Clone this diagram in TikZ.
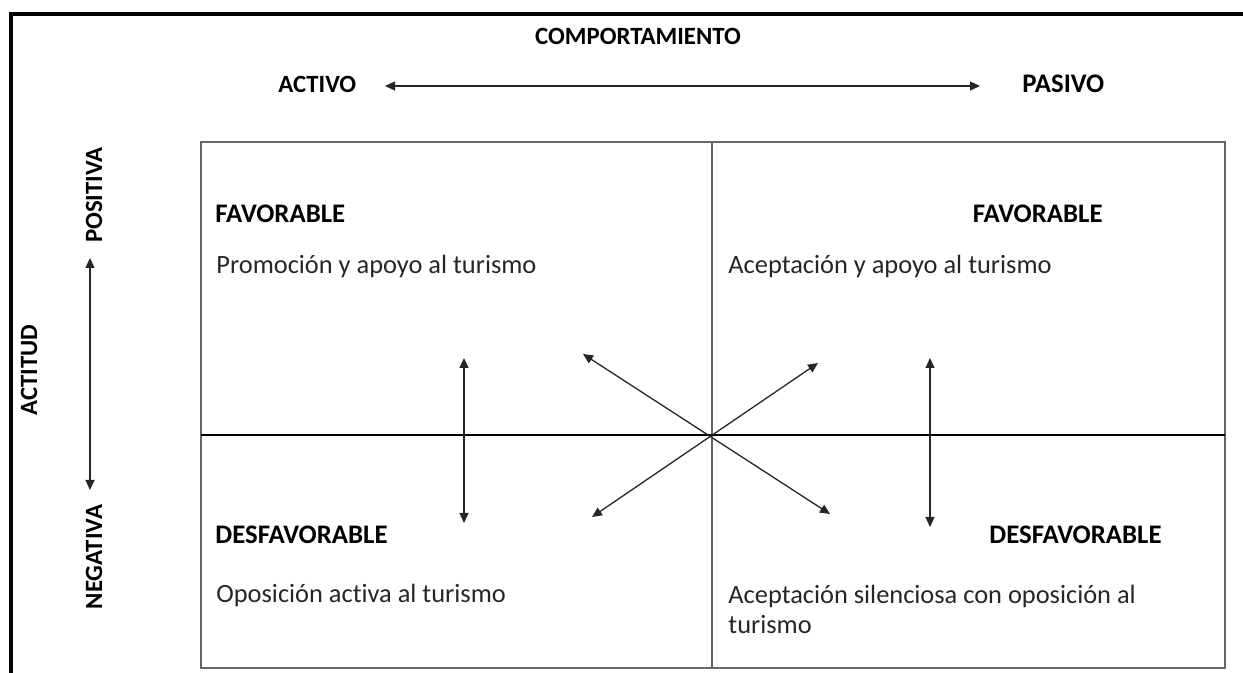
\documentclass[tikz,border=0pt]{standalone}
\usepackage{fontspec}
\setmainfont{Carlito}[Ligatures=NoCommon]
\usetikzlibrary{arrows.meta}

\begin{document}
\begin{tikzpicture}[x=0.5pt, y=-0.5pt,
  titulo/.style={font=\bfseries\fontsize{13.4}{15}\selectfont, inner sep=0pt},
  eje/.style={font=\bfseries\fontsize{12.4}{15}\selectfont, inner sep=0pt},
  texto/.style={font=\fontsize{13.2}{15}\selectfont, inner sep=0pt, text=black!85, align=left},
  flecha/.style={{Triangle[length=5pt,width=4.5pt]}-{Triangle[length=5pt,width=4.5pt]}, line width=0.65pt, black!85}]
\useasboundingbox (0,0) rectangle (1243,673);
% marco
\draw[line width=1.6pt] (1243,14) -- (11,14) -- (11,673);

% cuadrantes
\draw[black!60, line width=0.8pt] (201,142) rectangle (1225,668);
\draw[black!60, line width=0.8pt] (712,142) -- (712,668);
\draw[line width=1pt] (201,435) -- (1225,435);

% comportamiento
\node[eje, anchor=base] (comp) at (638,45) {COMPORTAMIENTO};
\node[eje, anchor=base west] (activo) at (278,93) {ACTIVO};
\node[titulo, anchor=base west] (pasivo) at (1022,93) {PASIVO};
\coordinate (ci) at (385,86);
\coordinate (cd) at (980,86);
\draw[flecha] (ci) -- (cd);

% actitud
\node[eje, anchor=base, rotate=90] (actitud) at (37,370) {ACTITUD};
\node[eje, anchor=base, rotate=90] (positiva) at (102,195) {POSITIVA};
\node[eje, anchor=base, rotate=90] (negativa) at (102,557) {NEGATIVA};
\coordinate (as) at (90,258);
\coordinate (ai) at (90,490);
\draw[flecha] (as) -- (ai);

% textos
\node[titulo, anchor=base west] (fav1) at (215,223) {FAVORABLE};
\node[texto, anchor=base west] (t1) at (216,274) {Promoción y apoyo al turismo};
\node[titulo, anchor=base east] (fav2) at (1103,223) {FAVORABLE};
\node[texto, anchor=base west] (t2) at (728,274) {Aceptación y apoyo al turismo};
\node[titulo, anchor=base west] (des1) at (215,544) {DESFAVORABLE};
\node[texto, anchor=base west] (t3) at (216,603) {Oposición activa al turismo};
\node[titulo, anchor=base east] (des2) at (1162,544) {DESFAVORABLE};
\node[texto, anchor=base west] (t4) at (728,633) {Aceptación silenciosa con oposición al\\turismo};

% flechas
\coordinate (ctr) at (712,435);
\coordinate (v1a) at (464,358);
\coordinate (v1b) at (464,523);
\coordinate (v2a) at (930,358);
\coordinate (v2b) at (930,527);
\coordinate (d1a) at (583,354);
\coordinate (d1b) at (830,514);
\coordinate (d2a) at (818,363);
\coordinate (d2b) at (592,517);
\draw[flecha] (v1a) -- (v1b);
\draw[flecha] (v2a) -- (v2b);
\draw[flecha] (d1a) -- (d1b);
\draw[flecha] (d2a) -- (d2b);
\end{tikzpicture}
\end{document}
